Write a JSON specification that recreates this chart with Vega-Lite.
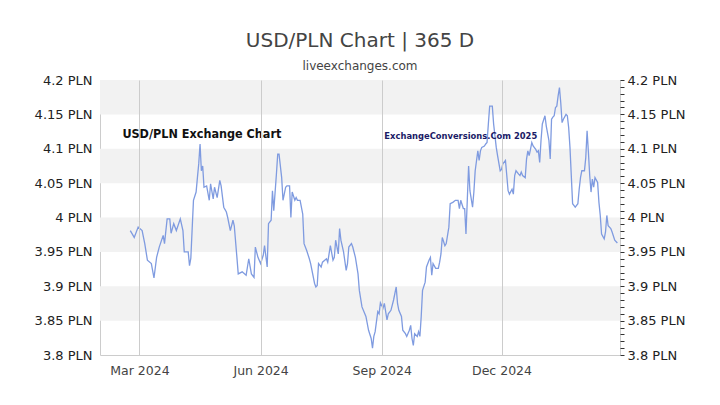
{
  "$schema": "https://vega.github.io/schema/vega-lite/v6.json",
  "width": 520,
  "height": 275,
  "autosize": {"type": "none"},
  "padding": {"left": 100, "top": 80, "right": 100, "bottom": 50},
  "background": "white",
  "title": {
    "text": "USD/PLN Chart | 365 D",
    "subtitle": "liveexchanges.com",
    "anchor": "middle",
    "frame": "group",
    "offset": 2,
    "font": "DejaVu Sans",
    "fontSize": 20,
    "fontWeight": "normal",
    "color": "#444444",
    "subtitleFont": "DejaVu Sans",
    "subtitleFontSize": 12,
    "subtitleColor": "#444444",
    "subtitlePadding": 10
  },
  "config": {
    "view": {"stroke": "#cccccc"},
    "axis": {"labelFont": "DejaVu Sans"}
  },
  "layer": [
    {
      "data": {"values": [
        {"lo": 4.15, "hi": 4.2},
        {"lo": 4.05, "hi": 4.1},
        {"lo": 3.95, "hi": 4.0},
        {"lo": 3.85, "hi": 3.9}
      ]},
      "mark": {"type": "rect", "color": "#f2f2f2"},
      "encoding": {
        "y": {
          "field": "lo", "type": "quantitative",
          "scale": {"domain": [3.8, 4.2], "nice": false, "zero": false},
          "axis": {
            "orient": "right",
            "values": [3.8,3.81,3.82,3.83,3.84,3.85,3.86,3.87,3.88,3.89,3.9,3.91,3.92,3.93,3.94,3.95,3.96,3.97,3.98,3.99,4.0,4.01,4.02,4.03,4.04,4.05,4.06,4.07,4.08,4.09,4.1,4.11,4.12,4.13,4.14,4.15,4.16,4.17,4.18,4.19,4.2],
            "labelExpr": "abs(datum.value*20 - round(datum.value*20)) < 0.001 ? format(datum.value, '~g') + ' PLN' : ''",
            "labelOverlap": false,
            "ticks": true,
            "tickSize": 4,
            "tickWidth": 1,
            "tickColor": "#333333",
            "labelPadding": 3,
            "domain": false,
            "grid": false,
            "title": null,
            "labelFontSize": 13,
            "labelColor": "#222222"
          }
        },
        "y2": {"field": "hi"}
      }
    },
    {
      "data": {"values": [
        {"d":"2024-02-23","v":3.981},{"d":"2024-02-26","v":3.971},{"d":"2024-02-29","v":3.986},{"d":"2024-03-03","v":3.981},
        {"d":"2024-03-05","v":3.962},{"d":"2024-03-07","v":3.938},{"d":"2024-03-10","v":3.933},{"d":"2024-03-12","v":3.912},
        {"d":"2024-03-14","v":3.942},{"d":"2024-03-16","v":3.957},{"d":"2024-03-19","v":3.974},{"d":"2024-03-20","v":3.962},
        {"d":"2024-03-22","v":3.998},{"d":"2024-03-24","v":3.998},{"d":"2024-03-25","v":3.977},{"d":"2024-03-27","v":3.991},
        {"d":"2024-03-29","v":3.981},{"d":"2024-04-01","v":3.998},{"d":"2024-04-03","v":3.981},{"d":"2024-04-04","v":3.950},
        {"d":"2024-04-07","v":3.950},{"d":"2024-04-08","v":3.930},{"d":"2024-04-09","v":3.941},{"d":"2024-04-11","v":4.025},
        {"d":"2024-04-13","v":4.037},{"d":"2024-04-14","v":4.058},{"d":"2024-04-15","v":4.078},{"d":"2024-04-16","v":4.107},
        {"d":"2024-04-17","v":4.068},{"d":"2024-04-18","v":4.075},{"d":"2024-04-19","v":4.044},{"d":"2024-04-21","v":4.046},
        {"d":"2024-04-23","v":4.025},{"d":"2024-04-24","v":4.049},{"d":"2024-04-26","v":4.027},{"d":"2024-04-27","v":4.044},
        {"d":"2024-04-29","v":4.029},{"d":"2024-05-01","v":4.054},{"d":"2024-05-02","v":4.046},{"d":"2024-05-04","v":4.015},
        {"d":"2024-05-06","v":4.008},{"d":"2024-05-07","v":4.000},{"d":"2024-05-09","v":3.981},{"d":"2024-05-11","v":3.996},
        {"d":"2024-05-12","v":3.988},{"d":"2024-05-14","v":3.942},{"d":"2024-05-15","v":3.918},{"d":"2024-05-18","v":3.921},
        {"d":"2024-05-21","v":3.916},{"d":"2024-05-22","v":3.928},{"d":"2024-05-23","v":3.940},{"d":"2024-05-25","v":3.918},
        {"d":"2024-05-27","v":3.913},{"d":"2024-05-28","v":3.957},{"d":"2024-05-30","v":3.942},{"d":"2024-06-01","v":3.933},
        {"d":"2024-06-03","v":3.945},{"d":"2024-06-04","v":3.959},{"d":"2024-06-06","v":3.928},{"d":"2024-06-07","v":3.991},
        {"d":"2024-06-09","v":3.996},{"d":"2024-06-10","v":4.039},{"d":"2024-06-11","v":4.010},{"d":"2024-06-13","v":4.063},
        {"d":"2024-06-14","v":4.092},{"d":"2024-06-15","v":4.092},{"d":"2024-06-17","v":4.058},{"d":"2024-06-18","v":4.025},
        {"d":"2024-06-20","v":4.044},{"d":"2024-06-21","v":4.046},{"d":"2024-06-23","v":4.046},{"d":"2024-06-24","v":4.000},
        {"d":"2024-06-25","v":4.037},{"d":"2024-06-27","v":4.025},{"d":"2024-06-28","v":4.029},{"d":"2024-06-29","v":4.025},
        {"d":"2024-07-01","v":4.025},{"d":"2024-07-03","v":4.005},{"d":"2024-07-04","v":3.962},{"d":"2024-07-06","v":3.952},
        {"d":"2024-07-08","v":3.940},{"d":"2024-07-09","v":3.933},{"d":"2024-07-12","v":3.904},{"d":"2024-07-13","v":3.899},
        {"d":"2024-07-14","v":3.901},{"d":"2024-07-15","v":3.933},{"d":"2024-07-17","v":3.928},{"d":"2024-07-18","v":3.935},
        {"d":"2024-07-21","v":3.940},{"d":"2024-07-22","v":3.935},{"d":"2024-07-23","v":3.947},{"d":"2024-07-24","v":3.959},
        {"d":"2024-07-26","v":3.938},{"d":"2024-07-27","v":3.942},{"d":"2024-07-28","v":3.967},{"d":"2024-07-30","v":3.947},
        {"d":"2024-07-31","v":3.984},{"d":"2024-08-01","v":3.967},{"d":"2024-08-03","v":3.950},{"d":"2024-08-05","v":3.923},
        {"d":"2024-08-06","v":3.933},{"d":"2024-08-07","v":3.957},{"d":"2024-08-09","v":3.962},{"d":"2024-08-10","v":3.957},
        {"d":"2024-08-12","v":3.942},{"d":"2024-08-14","v":3.918},{"d":"2024-08-15","v":3.894},{"d":"2024-08-17","v":3.870},
        {"d":"2024-08-20","v":3.856},{"d":"2024-08-22","v":3.836},{"d":"2024-08-24","v":3.824},{"d":"2024-08-25","v":3.810},
        {"d":"2024-08-26","v":3.827},{"d":"2024-08-27","v":3.834},{"d":"2024-08-29","v":3.863},{"d":"2024-08-30","v":3.860},
        {"d":"2024-08-31","v":3.876},{"d":"2024-09-02","v":3.868},{"d":"2024-09-03","v":3.875},{"d":"2024-09-05","v":3.851},
        {"d":"2024-09-06","v":3.860},{"d":"2024-09-08","v":3.865},{"d":"2024-09-10","v":3.880},{"d":"2024-09-12","v":3.899},
        {"d":"2024-09-13","v":3.875},{"d":"2024-09-14","v":3.865},{"d":"2024-09-16","v":3.856},{"d":"2024-09-17","v":3.836},
        {"d":"2024-09-19","v":3.831},{"d":"2024-09-20","v":3.827},{"d":"2024-09-22","v":3.836},{"d":"2024-09-23","v":3.843},
        {"d":"2024-09-24","v":3.824},{"d":"2024-09-25","v":3.814},{"d":"2024-09-26","v":3.831},{"d":"2024-09-28","v":3.827},
        {"d":"2024-09-29","v":3.834},{"d":"2024-09-30","v":3.827},{"d":"2024-10-01","v":3.856},{"d":"2024-10-02","v":3.894},
        {"d":"2024-10-04","v":3.906},{"d":"2024-10-05","v":3.928},{"d":"2024-10-07","v":3.938},{"d":"2024-10-08","v":3.942},
        {"d":"2024-10-09","v":3.916},{"d":"2024-10-10","v":3.933},{"d":"2024-10-12","v":3.926},{"d":"2024-10-14","v":3.926},
        {"d":"2024-10-15","v":3.935},{"d":"2024-10-16","v":3.947},{"d":"2024-10-17","v":3.971},{"d":"2024-10-19","v":3.959},
        {"d":"2024-10-20","v":3.962},{"d":"2024-10-22","v":3.986},{"d":"2024-10-23","v":4.020},{"d":"2024-10-25","v":4.022},
        {"d":"2024-10-27","v":4.025},{"d":"2024-10-29","v":4.025},{"d":"2024-10-30","v":4.013},{"d":"2024-10-31","v":4.025},
        {"d":"2024-11-02","v":4.013},{"d":"2024-11-03","v":4.013},{"d":"2024-11-04","v":3.976},{"d":"2024-11-05","v":4.025},
        {"d":"2024-11-06","v":4.075},{"d":"2024-11-07","v":4.039},{"d":"2024-11-09","v":4.015},{"d":"2024-11-10","v":4.037},
        {"d":"2024-11-11","v":4.068},{"d":"2024-11-13","v":4.097},{"d":"2024-11-14","v":4.083},{"d":"2024-11-15","v":4.097},
        {"d":"2024-11-16","v":4.102},{"d":"2024-11-18","v":4.104},{"d":"2024-11-19","v":4.107},{"d":"2024-11-20","v":4.109},
        {"d":"2024-11-21","v":4.136},{"d":"2024-11-22","v":4.162},{"d":"2024-11-24","v":4.162},{"d":"2024-11-25","v":4.136},
        {"d":"2024-11-27","v":4.102},{"d":"2024-11-28","v":4.090},{"d":"2024-11-30","v":4.068},{"d":"2024-12-01","v":4.070},
        {"d":"2024-12-02","v":4.078},{"d":"2024-12-04","v":4.083},{"d":"2024-12-05","v":4.061},{"d":"2024-12-06","v":4.039},
        {"d":"2024-12-07","v":4.034},{"d":"2024-12-09","v":4.041},{"d":"2024-12-10","v":4.034},{"d":"2024-12-11","v":4.061},
        {"d":"2024-12-12","v":4.068},{"d":"2024-12-14","v":4.063},{"d":"2024-12-15","v":4.061},{"d":"2024-12-16","v":4.066},
        {"d":"2024-12-17","v":4.061},{"d":"2024-12-19","v":4.058},{"d":"2024-12-20","v":4.085},{"d":"2024-12-21","v":4.097},
        {"d":"2024-12-22","v":4.090},{"d":"2024-12-23","v":4.099},{"d":"2024-12-24","v":4.109},{"d":"2024-12-25","v":4.104},
        {"d":"2024-12-27","v":4.099},{"d":"2024-12-28","v":4.095},{"d":"2024-12-29","v":4.097},{"d":"2024-12-30","v":4.080},
        {"d":"2024-12-31","v":4.112},{"d":"2025-01-01","v":4.136},{"d":"2025-01-03","v":4.148},{"d":"2025-01-04","v":4.133},
        {"d":"2025-01-06","v":4.112},{"d":"2025-01-07","v":4.085},{"d":"2025-01-08","v":4.143},{"d":"2025-01-09","v":4.146},
        {"d":"2025-01-10","v":4.148},{"d":"2025-01-11","v":4.160},{"d":"2025-01-12","v":4.162},{"d":"2025-01-13","v":4.177},
        {"d":"2025-01-14","v":4.189},{"d":"2025-01-15","v":4.167},{"d":"2025-01-16","v":4.138},{"d":"2025-01-17","v":4.143},
        {"d":"2025-01-19","v":4.150},{"d":"2025-01-20","v":4.148},{"d":"2025-01-21","v":4.131},{"d":"2025-01-22","v":4.102},
        {"d":"2025-01-23","v":4.061},{"d":"2025-01-24","v":4.020},{"d":"2025-01-26","v":4.015},{"d":"2025-01-28","v":4.020},
        {"d":"2025-01-29","v":4.041},{"d":"2025-01-30","v":4.058},{"d":"2025-01-31","v":4.068},{"d":"2025-02-02","v":4.068},
        {"d":"2025-02-03","v":4.087},{"d":"2025-02-04","v":4.126},{"d":"2025-02-05","v":4.095},{"d":"2025-02-06","v":4.061},
        {"d":"2025-02-07","v":4.037},{"d":"2025-02-08","v":4.056},{"d":"2025-02-09","v":4.044},{"d":"2025-02-10","v":4.058},
        {"d":"2025-02-12","v":4.051},{"d":"2025-02-13","v":4.022},{"d":"2025-02-14","v":4.003},{"d":"2025-02-15","v":3.976},
        {"d":"2025-02-17","v":3.969},{"d":"2025-02-18","v":3.979},{"d":"2025-02-19","v":4.003},{"d":"2025-02-20","v":3.988},
        {"d":"2025-02-22","v":3.984},{"d":"2025-02-23","v":3.979},{"d":"2025-02-25","v":3.967},{"d":"2025-02-27","v":3.963}
      ]},
      "mark": {"type": "line", "color": "#7f9be0", "strokeWidth": 1.3},
      "encoding": {
        "x": {
          "field": "d", "type": "temporal",
          "scale": {"domain": [{"year": 2024, "month": "jan", "date": 31}, {"year": 2025, "month": "mar", "date": 1}]},
          "axis": {
            "values": [
              {"year": 2024, "month": "mar", "date": 1},
              {"year": 2024, "month": "jun", "date": 1},
              {"year": 2024, "month": "sep", "date": 1},
              {"year": 2024, "month": "dec", "date": 1}
            ],
            "format": "%b %Y",
            "grid": true,
            "gridColor": "#cccccc",
            "tickSize": 0,
            "domain": false,
            "title": null,
            "labelFontSize": 12.5,
            "labelColor": "#444444",
            "labelPadding": 9,
            "labelFlush": false,
            "zindex": 1
          }
        },
        "y": {
          "field": "v", "type": "quantitative",
          "axis": {
            "orient": "left",
            "values": [3.8, 3.85, 3.9, 3.95, 4.0, 4.05, 4.1, 4.15, 4.2],
            "labelExpr": "format(datum.value, '~g') + ' PLN'",
            "tickSize": 0,
            "domain": false,
            "grid": false,
            "title": null,
            "labelPadding": 8,
            "labelFontSize": 13,
            "labelColor": "#222222"
          }
        }
      }
    },
    {
      "data": {"values": [{"label": "USD/PLN Exchange Chart", "d": "2024-02-17", "v": 4.1215}]},
      "mark": {"type": "text", "align": "left", "baseline": "middle", "font": "DejaVu Sans Condensed", "fontWeight": "bold", "fontSize": 12.5, "color": "#111111"},
      "encoding": {
        "x": {"field": "d", "type": "temporal", "axis": null},
        "y": {"field": "v", "type": "quantitative", "axis": null},
        "text": {"field": "label"}
      }
    },
    {
      "data": {"values": [{"label": "ExchangeConversions.Com 2025", "d": "2024-09-03", "v": 4.118}]},
      "mark": {"type": "text", "align": "left", "baseline": "middle", "font": "DejaVu Sans Condensed", "fontWeight": "bold", "fontSize": 9.3, "color": "#1a1a66"},
      "encoding": {
        "x": {"field": "d", "type": "temporal", "axis": null},
        "y": {"field": "v", "type": "quantitative", "axis": null},
        "text": {"field": "label"}
      }
    }
  ],
  "resolve": {"axis": {"y": "independent", "x": "independent"}}
}
